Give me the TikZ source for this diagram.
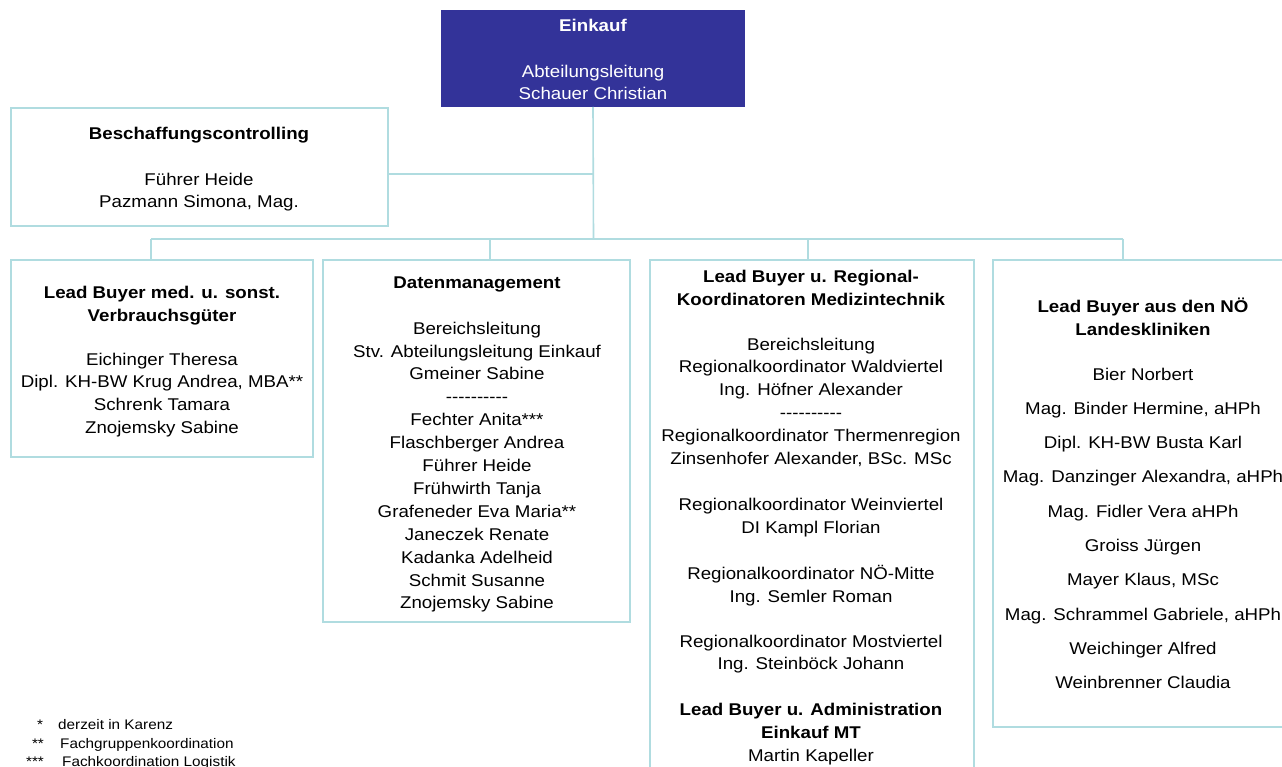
\documentclass[tikz,border=0pt]{standalone}
\usepackage{fontspec}
\setmainfont{Liberation Sans}[FakeStretch=1.1]
\definecolor{linec}{RGB}{176,220,224}
\definecolor{headc}{RGB}{51,51,153}
\newcommand\myfl{\rule{0pt}{17pt}}
\newcommand\mydash{\mbox{-}\mbox{-}\mbox{-}\mbox{-}\mbox{-}\mbox{-}\mbox{-}\mbox{-}\mbox{-}\mbox{-}}
\begin{document}
\begin{tikzpicture}[x=1pt,y=-1pt,
  box/.style={draw=linec, line width=1.6pt, anchor=north west, inner sep=0pt, outer sep=0pt},
  headbox/.style={fill=headc, anchor=north west, inner sep=0pt, outer sep=0pt},
  txt/.style={font=\fontsize{17}{22.9}\selectfont, align=center, inner sep=0pt, anchor=north},
  foot/.style={font=\fontsize{13.9}{18}\selectfont, inner sep=0pt, text height=10pt, text depth=3pt},
  conn/.style={draw=linec, line width=1.6pt}]
\fill[white] (0,0) rectangle (1282,767);
\useasboundingbox (0,0) rectangle (1282,767);

% boxes
\node[headbox, minimum width=304pt, minimum height=97pt] (ek) at (441,10) {};
\node[box, minimum width=377pt, minimum height=118pt] (bc) at (11,108) {};
\node[box, minimum width=302pt, minimum height=197pt] (b1) at (11,260) {};
\node[box, minimum width=307pt, minimum height=362pt] (b2) at (323,260) {};
\node[box, minimum width=324pt, minimum height=540pt] (b3) at (650,260) {};
\node[box, minimum width=320pt, minimum height=467pt] (b4) at (993,260) {};

% connectors
\coordinate (jn) at (593.5,239);
\coordinate (bcj) at (593.5,174);
\coordinate (d1) at (151,239);
\coordinate (d2) at (490,239);
\coordinate (d3) at (808,239);
\coordinate (d4) at (1123,239);
\draw[conn] (ek.south) -- (jn);
\draw[conn] (bcj) -- (bcj -| bc.east);
\draw[conn] (d1) -- (d4);
\draw[conn] (d1) -- (d1 |- b1.north);
\draw[conn] (d2) -- (d2 |- b2.north);
\draw[conn] (d3) -- (d3 |- b3.north);
\draw[conn] (d4) -- (d4 |- b4.north);

% texts
\node[txt, text=white] (tek) at (593,14) {\myfl\textbf{Einkauf}\\[23pt]
Abteilungsleitung\\ Schauer Christian};

\node[txt] (tbc) at (199,122) {\myfl\textbf{Beschaffungscontrolling}\\[23pt]
Führer Heide\\ Pazmann Simona, Mag.};

\node[txt] (t1) at (162,281) {\myfl\textbf{Lead Buyer med. u. sonst.}\\ \textbf{Verbrauchsgüter}\\[21pt]
Eichinger Theresa\\ Dipl. KH-BW Krug Andrea, MBA**\\ Schrenk Tamara\\ Znojemsky Sabine};

\node[txt] (t2) at (477,271) {\myfl\textbf{Datenmanagement}\\[23pt]
Bereichsleitung\\ Stv. Abteilungsleitung Einkauf\\ Gmeiner Sabine\\ \mydash\\
Fechter Anita***\\ Flaschberger Andrea\\ Führer Heide\\ Frühwirth Tanja\\
Grafeneder Eva Maria**\\ Janeczek Renate\\ Kadanka Adelheid\\ Schmit Susanne\\ Znojemsky Sabine};

\node[txt] (t3) at (811,265) {\myfl\textbf{Lead Buyer u. Regional-}\\ \textbf{Koordinatoren Medizintechnik}\\[22pt]
Bereichsleitung\\ Regionalkoordinator Waldviertel\\ Ing. Höfner Alexander\\ \mydash\\
Regionalkoordinator Thermenregion\\ Zinsenhofer Alexander, BSc. MSc\\[23pt]
Regionalkoordinator Weinviertel\\ DI Kampl Florian\\[23pt]
Regionalkoordinator NÖ-Mitte\\ Ing. Semler Roman\\[22pt]
Regionalkoordinator Mostviertel\\ Ing. Steinböck Johann\\[23pt]
\textbf{Lead Buyer u. Administration}\\ \textbf{Einkauf MT}\\ Martin Kapeller};

\node[txt] (t4) at (1143,295) {\myfl\textbf{Lead Buyer aus den NÖ}\\ \textbf{Landeskliniken}\\[22pt]
Bier Norbert\\[11.4pt] Mag. Binder Hermine, aHPh\\[11.4pt] Dipl. KH-BW Busta Karl\\[11.4pt]
Mag. Danzinger Alexandra, aHPh\\[11.4pt] Mag. Fidler Vera aHPh\\[11.4pt] Groiss Jürgen\\[11.4pt]
Mayer Klaus, MSc\\[11.4pt] Mag. Schrammel Gabriele, aHPh\\[11.4pt] Weichinger Alfred\\[11.4pt]
Weinbrenner Claudia};

% footnotes
\node[foot] (s1) at (40,725.5) {*};
\node[foot, anchor=west] (f1) at (58,725.5) {derzeit in Karenz};
\node[foot] (s2) at (38,744.5) {**};
\node[foot, anchor=west] (f2) at (60,744.5) {Fachgruppenkoordination};
\node[foot] (s3) at (35,762.5) {***};
\node[foot, anchor=west] (f3) at (62,762.5) {Fachkoordination Logistik};
\end{tikzpicture}
\end{document}
